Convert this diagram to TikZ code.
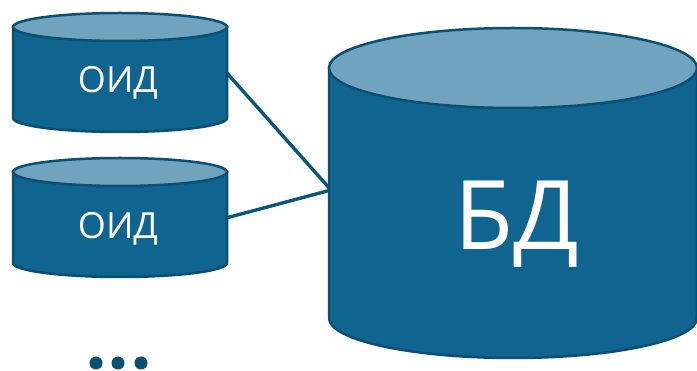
\documentclass[tikz,border=0pt]{standalone}
\usepackage{fontspec}
\setmainfont{Open Sans}
\definecolor{bodyc}{HTML}{0F6490}
\definecolor{topc}{HTML}{6FA3BE}
\definecolor{edgec}{HTML}{0B4F75}
\tikzset{
  cyl/.style={fill=bodyc,draw=edgec,line width=2.5pt},
  cyltop/.style={fill=topc,draw=edgec,line width=2.5pt},
  lbl/.style={text=white,inner sep=0pt,anchor=center},
  conn/.style={draw=edgec!70!bodyc,line width=3.4pt}
}
\newcommand{\cyl}[5]{% cx, top y, bottom y, rx, ry (pixels, y down)
  \path[cyl] (#1-#4,-#2) -- (#1-#4,-#3) arc[start angle=180,end angle=360,x radius=#4,y radius=#5] -- (#1+#4,-#2) -- cycle;
  \path[cyltop] (#1,-#2) ellipse[x radius=#4,y radius=#5];
}
\begin{document}
\begin{tikzpicture}[x=1pt,y=1pt]
\useasboundingbox (0,0) rectangle (697,-371);
\fill[white] (0,0) rectangle (697,-371);
\coordinate (j) at (331,-190);
\coordinate (a1) at (226,-72);
\coordinate (a2) at (226,-218);
\draw[conn] (a1) -- (j);
\draw[conn] (a2) -- (j);
\cyl{120}{27}{118}{107}{14}
\cyl{120}{172}{263}{107}{14}
\cyl{513}{68}{318}{184}{40}
\node[lbl,font=\fontsize{36}{36}\selectfont] (o1) at (118,-83) {ОИД};
\node[lbl,font=\fontsize{36}{36}\selectfont] (o2) at (118,-229) {ОИД};
\node[lbl,font=\fontsize{96}{96}\selectfont] (bd) at (517,-224) {БД};
\fill[edgec] (96,-363) circle (6.5);
\fill[edgec] (118,-363) circle (6.5);
\fill[edgec] (141,-363) circle (6.5);
\end{tikzpicture}
\end{document}
